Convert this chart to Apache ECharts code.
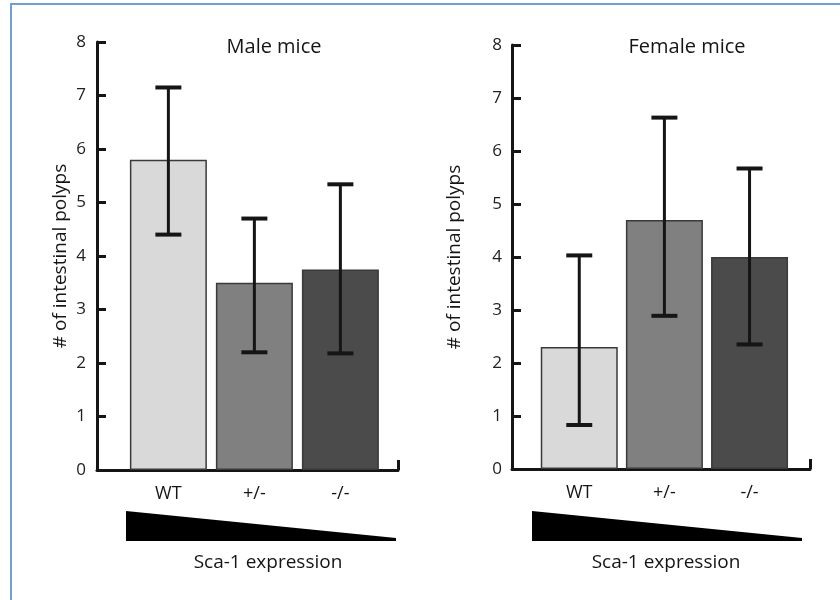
<!DOCTYPE html>
<html>
<head>
<meta charset="utf-8">
<script src="https://cdn.jsdelivr.net/npm/echarts@6/dist/echarts.min.js"></script>
<style>
  html, body { margin: 0; padding: 0; background: #fff; }
  #main { width: 840px; height: 600px; }
</style>
</head>
<body>
<div id="main"></div>
<script>
// data
const categories = ['WT', '+/-', '-/-']
const barColors = ['#d9d9d9', '#808080', '#4b4b4b']

const maleMean = [5.8, 3.5, 3.75]
const maleLow = [4.4, 2.2, 2.18]
const maleHigh = [7.15, 4.7, 5.34]

const femaleMean = [2.3, 4.7, 4.0]
const femaleLow = [0.83, 2.89, 2.35]
const femaleHigh = [4.03, 6.63, 5.67]

const yTicks = [0, 1, 2, 3, 4, 5, 6, 7, 8]

const font = 'Open Sans'
const ink = '#151515'

const chart = echarts.init(document.getElementById('main'))

function barData (mean) {
  return mean.map((v, i) => ({
    value: [i + 1, v],
    itemStyle: { color: barColors[i] }
  }))
}

function errData (low, high) {
  return low.map((v, i) => [i + 1, v, high[i]])
}

function renderErr (params, api) {
  const x = api.value(0)
  const lo = api.coord([x, api.value(1)])
  const hi = api.coord([x, api.value(2)])
  const hw = 13
  return {
    type: 'group',
    children: [
      { type: 'line', shape: { x1: hi[0], y1: hi[1], x2: lo[0], y2: lo[1] }, style: { stroke: ink, lineWidth: 3 } },
      { type: 'line', shape: { x1: hi[0] - hw, y1: hi[1], x2: hi[0] + hw, y2: hi[1] }, style: { stroke: ink, lineWidth: 4 } },
      { type: 'line', shape: { x1: lo[0] - hw, y1: lo[1], x2: lo[0] + hw, y2: lo[1] }, style: { stroke: ink, lineWidth: 4 } }
    ]
  }
}

function xAxisFor (idx, min, max) {
  return {
    type: 'value',
    gridIndex: idx,
    min: min,
    max: max,
    splitLine: { show: false },
    axisLine: { show: true, lineStyle: { color: ink, width: 3 } },
    axisTick: { show: true, inside: true, length: 10, customValues: [max], lineStyle: { color: ink, width: 3 } },
    axisLabel: {
      customValues: [1, 2, 3],
      formatter: v => categories[Math.round(v) - 1],
      margin: 15,
      fontFamily: font,
      fontSize: 18,
      color: ink
    }
  }
}

function yAxisFor (idx, gap, margin) {
  return {
    type: 'value',
    gridIndex: idx,
    min: yTicks[0],
    max: yTicks[yTicks.length - 1],
    interval: 1,
    splitLine: { show: false },
    axisLine: { show: true, lineStyle: { color: ink, width: 3 } },
    axisTick: { show: true, inside: true, length: 9, lineStyle: { color: ink, width: 3 } },
    axisLabel: { margin: margin, fontFamily: font, fontSize: 17, color: '#222' },
    name: '# of intestinal polyps',
    nameLocation: 'middle',
    nameGap: gap,
    nameTextStyle: { fontFamily: font, fontSize: 19, color: ink }
  }
}

const titleStyle = { fontFamily: font, fontSize: 20, fontWeight: 'normal', color: ink }
const footStyle = { fontFamily: font, fontSize: 19, fontWeight: 'normal', color: ink }

const option = {
  backgroundColor: '#fff',
  animation: false,
  title: [
    { text: 'Male mice', left: 269, top: 32, textAlign: 'center', textStyle: titleStyle },
    { text: 'Female mice', left: 682, top: 32, textAlign: 'center', textStyle: titleStyle },
    { text: 'Sca-1 expression', left: 263, top: 548, textAlign: 'center', textStyle: footStyle },
    { text: 'Sca-1 expression', left: 661, top: 548, textAlign: 'center', textStyle: footStyle }
  ],
  grid: [
    { left: 97, right: 442, top: 42, bottom: 130 },
    { left: 512, right: 30, top: 45, bottom: 131 }
  ],
  xAxis: [xAxisFor(0, 0.17, 3.67), xAxisFor(1, 0.21, 3.71)],
  yAxis: [yAxisFor(0, 27, 11), yAxisFor(1, 48, 10)],
  graphic: [
    // page frame
    { type: 'rect', shape: { x: 11, y: 4, width: 900, height: 700 }, style: { fill: 'none', stroke: '#6f9fd3', lineWidth: 2 }, silent: true },
    // expression wedges
    { type: 'polygon', shape: { points: [[126, 511], [126, 541], [396, 541], [396, 538]] }, style: { fill: '#000' }, silent: true },
    { type: 'polygon', shape: { points: [[532, 511], [532, 541], [802, 541], [802, 538]] }, style: { fill: '#000' }, silent: true }
  ],
  series: [
    {
      type: 'bar', xAxisIndex: 0, yAxisIndex: 0, barWidth: 77,
      itemStyle: { borderColor: '#3a3a3a', borderWidth: 1.5 },
      data: barData(maleMean)
    },
    {
      type: 'custom', xAxisIndex: 0, yAxisIndex: 0, z: 5,
      renderItem: renderErr, encode: { x: 0, y: [1, 2] },
      data: errData(maleLow, maleHigh)
    },
    {
      type: 'bar', xAxisIndex: 1, yAxisIndex: 1, barWidth: 77,
      itemStyle: { borderColor: '#3a3a3a', borderWidth: 1.5 },
      data: barData(femaleMean)
    },
    {
      type: 'custom', xAxisIndex: 1, yAxisIndex: 1, z: 5,
      renderItem: renderErr, encode: { x: 0, y: [1, 2] },
      data: errData(femaleLow, femaleHigh)
    }
  ]
}

chart.setOption(option)
</script>
</body>
</html>
